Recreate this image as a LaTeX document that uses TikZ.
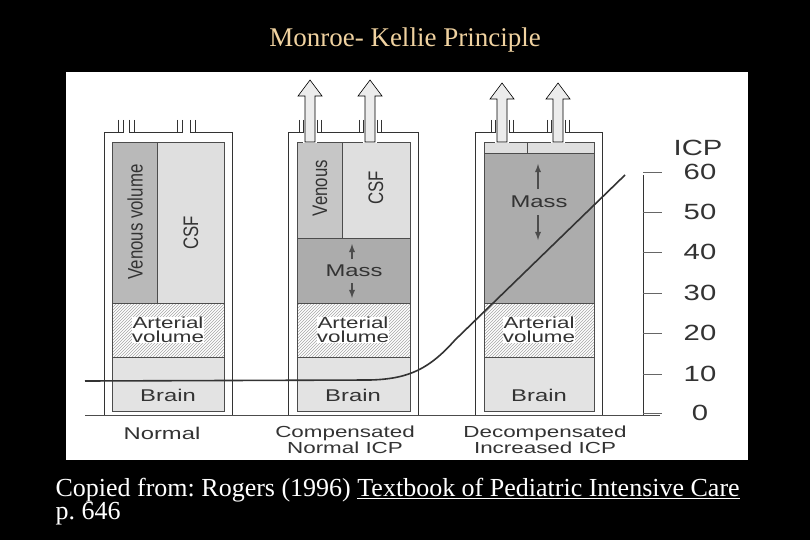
\documentclass[tikz,border=0pt]{standalone}
\usepackage{fontspec}
\setmainfont{Liberation Serif}
\newfontfamily\lblfont{Liberation Sans}
\usetikzlibrary{patterns}
\newcommand\hollowarrow[3]{%
 \draw[fill=gray!15,line width=0.6pt] (#1-5,#2) -- (#1-5,#3+16) -- (#1-12,#3+16) -- (#1,#3) -- (#1+12,#3+16) -- (#1+5,#3+16) -- (#1+5,#2) -- cycle;}
\begin{document}
\frenchspacing
\begin{tikzpicture}[x=1pt,y=-1pt,
  lbl/.style={font=\lblfont\fontsize{17}{17}\selectfont,text=black!80,xscale=1.4},
  two/.style={align=center,font=\lblfont\fontsize{16}{14}\selectfont},
  outer/.style={draw=black!80,line width=1pt},
  cell/.style={draw=black!70,line width=0.6pt},
  tick/.style={draw=black!60,line width=0.6pt}]
\useasboundingbox (0,0) rectangle (810,540);
\fill[black] (0,0) rectangle (810,540);
\fill[white] (66,72) rectangle (748,460);
\node[text={rgb,255:red,240;green,210;blue,160},font=\fontsize{27}{27}\selectfont] (title) at (405,40) {Monroe- Kellie Principle};
% container 1
\draw[outer] (104,133) rectangle (232,415);
\draw[cell,fill=gray!55] (112,142) rectangle (157,303);
\draw[cell,fill=gray!25] (157,142) rectangle (224,303);
\draw[cell,pattern=north east lines,pattern color=gray!70] (112,303) rectangle (224,357);
\draw[cell,fill=gray!22] (112,357) rectangle (224,411);
\fill[white] (123,128) rectangle (129,141);\fill[white] (182,128) rectangle (190,141);
\foreach \x in {118,123,129,134,177,182,190,195}{\draw[black!80,line width=0.8pt] (\x,120) -- (\x,133);}
\node[rotate=90,text=black!80,font=\lblfont\fontsize{21}{21}\selectfont,xscale=0.8] (v1) at (135,222) {Venous volume};
\node[rotate=90,text=black!80,font=\lblfont\fontsize{21}{21}\selectfont,xscale=0.8] (c1) at (191,233) {CSF};
\node[lbl,two,fill=white,inner sep=0pt] (a1) at (168,330) {Arterial\\volume};
\node[lbl] (b1) at (168,395) {Brain};
% container 2
\draw[outer] (288,133) rectangle (418,415);
\draw[cell,fill=gray!45] (297,142) rectangle (342,238);
\draw[cell,fill=gray!25] (342,142) rectangle (410,238);
\draw[cell,fill=gray!65] (297,238) rectangle (410,303);
\draw[cell,pattern=north east lines,pattern color=gray!70] (297,303) rectangle (410,357);
\draw[cell,fill=gray!22] (297,357) rectangle (410,411);
\fill[white] (303,128) rectangle (317,143);\fill[white] (363,128) rectangle (377,143);
\foreach \x in {299,303,317,321,359,363,377,381}{\draw[black!80,line width=0.8pt] (\x,120) -- (\x,133);}
\hollowarrow{310}{142}{80}\hollowarrow{370}{142}{80}
\node[rotate=90,text=black!80,font=\lblfont\fontsize{21}{21}\selectfont,xscale=0.8] (v2) at (320,188) {Venous};
\node[rotate=90,text=black!80,font=\lblfont\fontsize{21}{21}\selectfont,xscale=0.8] (c2) at (376,188) {CSF};
\node[lbl] (m2) at (354,271) {Mass};
\draw[-latex,line width=1.8pt,black!70] (352,259) -- (352,244);
\draw[-latex,line width=1.8pt,black!70] (352,283) -- (352,298);
\node[lbl,two,fill=white,inner sep=0pt] (a2) at (353,330) {Arterial\\volume};
\node[lbl] (b2) at (353,395) {Brain};
% container 3
\draw[outer] (475,133) rectangle (602,415);
\draw[cell,fill=gray!25] (484,142) rectangle (527,153);
\draw[cell,fill=gray!25] (527,142) rectangle (594,153);
\draw[cell,fill=gray!65] (484,153) rectangle (594,303);
\draw[cell,pattern=north east lines,pattern color=gray!70] (484,303) rectangle (594,357);
\draw[cell,fill=gray!22] (484,357) rectangle (594,411);
\fill[white] (495,128) rectangle (509,143);\fill[white] (551,128) rectangle (565,143);
\foreach \x in {491,495,509,513,547,551,565,569}{\draw[black!80,line width=0.8pt] (\x,120) -- (\x,133);}
\hollowarrow{502}{142}{83}\hollowarrow{558}{142}{83}
\node[lbl] (m3) at (539,202) {Mass};
\draw[-latex,line width=1.8pt,black!70] (538,189) -- (538,164);
\draw[-latex,line width=1.8pt,black!70] (538,215) -- (538,240);
\node[lbl,two,fill=white,inner sep=0pt] (a3) at (539,330) {Arterial\\volume};
\node[lbl] (b3) at (539,395) {Brain};
% baseline
\draw[black!70,line width=0.8pt] (85,415) -- (660,415);
% scale
\draw[black!80,line width=0.8pt] (643,175) -- (643,415);
\foreach \v/\y in {60/172,50/212,40/252,30/293,20/333,10/374,0/413}{
  \draw[tick] (643,\y) -- (662,\y);
  \node[lbl,xscale=0.95,font=\lblfont\fontsize{22}{22}\selectfont] at (700,\y) {\v};}
\node[lbl,xscale=0.95,font=\lblfont\fontsize{22}{22}\selectfont] (icp) at (698,148) {ICP};
% curve
\draw[black!80,line width=1.6pt] (85,381) -- (370,380) .. controls (410,379) and (430,368) .. (455,340) -- (625,175);
% captions
\node[lbl] (n1) at (162,433) {Normal};
\node[lbl,two] (n2) at (345,440) {Compensated\\Normal ICP};
\node[lbl,two] (n3) at (545,440) {Decompensated\\Increased ICP};
\node[text=white,anchor=west,align=left,font=\fontsize{26}{23}\selectfont] (src) at (52,502) {Copied from: Rogers (1996) \underline{Textbook of Pediatric Intensive Care}\\p. 646};
\end{tikzpicture}
\end{document}
